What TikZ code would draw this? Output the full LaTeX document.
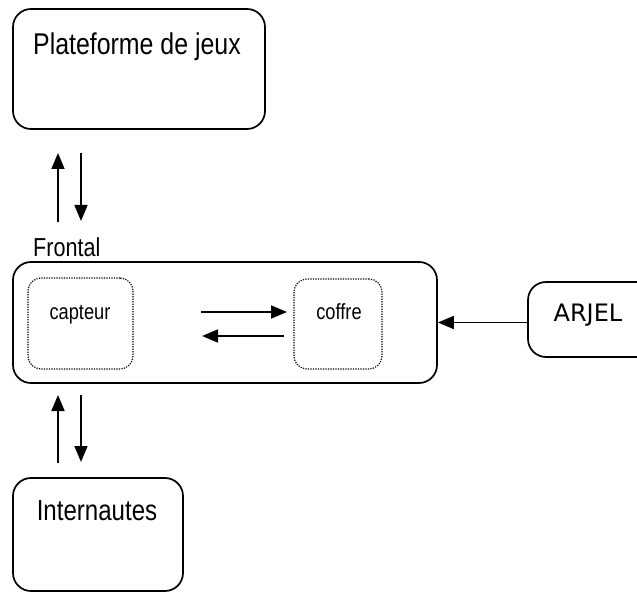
\documentclass[tikz,border=0pt]{standalone}
\usepackage{fontspec}
\setmainfont[FakeStretch=0.83]{Liberation Sans}
\newfontfamily\arjelfont{DejaVu Sans}
\usetikzlibrary{arrows.meta}
\begin{document}
\begin{tikzpicture}[x=1pt,y=-1pt,
  box/.style={draw, line width=1.7pt, rounded corners=18pt, inner sep=0pt},
  innerbox/.style={draw, line width=1.2pt, dash pattern=on 1.2pt off 1.3pt, rounded corners=13pt, inner sep=0pt},
  flow/.style={line width=1.7pt, -{Triangle[length=16pt,width=13pt]}},
  lbl/.style={inner sep=0pt, anchor=base}]
\useasboundingbox (0,0) rectangle (637,593);
\begin{scope}
\clip (0,0) rectangle (637,593);
% boxes
\node[box, minimum width=252pt, minimum height=120pt] (plat) at (139,69) {};
\node[box, minimum width=424pt, minimum height=121pt] (front) at (225,322.5) {};
\node[innerbox, minimum width=105pt, minimum height=91pt] (capt) at (80.5,323.5) {};
\node[innerbox, minimum width=88pt, minimum height=90pt] (coff) at (338,324) {};
\node[box, minimum width=132pt, minimum height=75pt] (arjel) at (594,319.5) {};
\node[box, minimum width=170pt, minimum height=113pt] (inet) at (98,534.5) {};
\end{scope}
% labels
\node[lbl, font=\fontsize{30}{36}\selectfont] (tplat) at (137,55) {Plateforme de jeux};
\node[lbl, anchor=base west, font=\fontsize{26}{30}\selectfont] (tfront) at (33,257) {Frontal};
\node[lbl, font=\fontsize{22}{26}\selectfont] (tcapt) at (80,320) {capteur};
\node[lbl, font=\fontsize{22}{26}\selectfont] (tcoff) at (339,320) {coffre};
\node[lbl, font=\arjelfont\fontsize{24}{28}\selectfont] (tarjel) at (588,322) {ARJEL};
\node[lbl, font=\fontsize{29}{34}\selectfont] (tinet) at (97,520) {Internautes};
% arrow end points
\coordinate (a1) at (58,222);
\coordinate (a2) at (58,153);
\coordinate (b1) at (81,153);
\coordinate (b2) at (81,221);
\coordinate (c1) at (58,463);
\coordinate (c2) at (58,395);
\coordinate (d1) at (81,395);
\coordinate (d2) at (81,462);
\coordinate (e1) at (201,312);
\coordinate (e2) at (287,312);
\coordinate (f1) at (284,336);
\coordinate (f2) at (202,336);
% connectors
\draw[flow] (a1) -- (a2);
\draw[flow] (b1) -- (b2);
\draw[flow] (c1) -- (c2);
\draw[flow] (d1) -- (d2);
\draw[flow] (e1) -- (e2);
\draw[flow] (f1) -- (f2);
\draw[flow] (arjel.west |- front.east) -- (front.east);
\end{tikzpicture}
\end{document}
